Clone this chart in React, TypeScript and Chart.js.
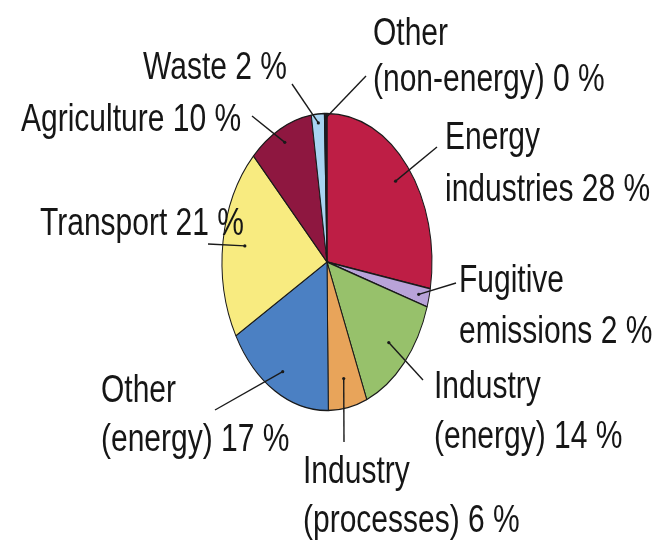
import React, { useEffect, useRef } from 'react';
import { Chart, registerables } from 'chart.js';

Chart.register(...registerables);

// ---- data ----
const categories = [
  'Energy industries',
  'Fugitive emissions',
  'Industry (energy)',
  'Industry (processes)',
  'Other (energy)',
  'Transport',
  'Agriculture',
  'Waste',
  'Other (non-energy)',
];
const shares = [28, 2, 14, 6, 17, 21, 10, 2, 0.4];
const wrapLabel = [true, true, true, true, true, false, false, false, true];
const sliceColors = [
  '#BE1E45',
  '#B9A3D9',
  '#97C16B',
  '#E8A45A',
  '#4B80C3',
  '#F8EB80',
  '#8E1740',
  '#A8D4F2',
  '#1C1C2A',
];

// ---- label layout (text anchor, leader end, inner-point fraction, line height) ----
const labelLayout = [
  { x: 445, y: 149, ex: 437, ey: 147, frac: 0.85, lh: 52 },
  { x: 459, y: 292, ex: 456, ey: 283, frac: 0.9, lh: 51 },
  { x: 434, y: 398, ex: 423, ey: 380, frac: 0.8, lh: 50 },
  { x: 303, y: 483, ex: 344, ey: 442, frac: 0.8, lh: 49 },
  { x: 101, y: 402, ex: 215, ey: 410, frac: 0.85, lh: 49 },
  { x: 40, y: 235, ex: 208, ey: 244, frac: 0.79, lh: 50 },
  { x: 21, y: 131, ex: 252, ey: 116, frac: 0.9, lh: 50 },
  { x: 143, y: 79, ex: 292, ey: 84, frac: 0.94, lh: 50 },
  { x: 373, y: 45, ex: 366, ey: 76, frac: 0.97, lh: 46 },
];

const Y_STRETCH = 1.415;
const TEXT_STRETCH = 1.28;

function labelLines(i: number): string[] {
  const name = categories[i];
  const pct = `${Math.round(shares[i])} %`;
  if (wrapLabel[i]) {
    const k = name.indexOf(' ');
    return [name.slice(0, k), name.slice(k + 1) + ' ' + pct];
  }
  return [name + ' ' + pct];
}

const ellipsePlugin = {
  id: 'ellipsePie',
  beforeDatasetsDraw(chart: any) {
    const arc = chart.getDatasetMeta(0).data[0];
    const { x, y } = arc;
    const ctx = chart.ctx;
    ctx.save();
    ctx.translate(x, y);
    ctx.scale(1, Y_STRETCH);
    ctx.translate(-x, -y);
  },
  afterDatasetsDraw(chart: any) {
    chart.ctx.restore();
  },
};

const labelPlugin = {
  id: 'pieLabels',
  afterDraw(chart: any) {
    const ctx = chart.ctx as CanvasRenderingContext2D;
    const meta = chart.getDatasetMeta(0);
    meta.data.forEach((arc: any, i: number) => {
      const L = labelLayout[i];
      const mid = (arc.startAngle + arc.endAngle) / 2;
      const r = arc.outerRadius * L.frac;
      const ix = arc.x + Math.cos(mid) * r;
      const iy = arc.y + Math.sin(mid) * r * Y_STRETCH;
      ctx.save();
      ctx.strokeStyle = '#1a1a1a';
      ctx.lineWidth = 1.4;
      ctx.beginPath();
      ctx.moveTo(ix, iy);
      ctx.lineTo(L.ex, L.ey);
      ctx.stroke();
      ctx.fillStyle = '#1a1a1a';
      ctx.beginPath();
      ctx.arc(ix, iy, 1.6, 0, Math.PI * 2);
      ctx.fill();
      ctx.restore();

      const lines = labelLines(i);
      lines.forEach((t, j) => {
        ctx.save();
        ctx.translate(L.x, L.y + j * L.lh);
        ctx.scale(1, TEXT_STRETCH);
        ctx.font = '30px "Liberation Sans", Arial, sans-serif';
        ctx.fillStyle = '#161616';
        ctx.textAlign = 'left';
        ctx.textBaseline = 'alphabetic';
        ctx.fillText(t, 0, 0);
        ctx.restore();
      });
    });
  },
};

export default function App() {
  const ref = useRef<HTMLCanvasElement | null>(null);
  useEffect(() => {
    if (!ref.current) return;
    const chart = new Chart(ref.current, {
      type: 'pie',
      data: {
        labels: categories,
        datasets: [
          {
            data: shares,
            backgroundColor: sliceColors,
            borderColor: '#1a1a1a',
            borderWidth: 1,
            radius: 105,
          } as any,
        ],
      },
      options: {
        responsive: false,
        animation: false,
        devicePixelRatio: 1,
        events: [],
        layout: { padding: { left: 0, right: 12, top: 0, bottom: 22 } },
        plugins: {
          legend: { display: false },
          tooltip: { enabled: false },
        },
      } as any,
      plugins: [ellipsePlugin, labelPlugin],
    });
    return () => chart.destroy();
  }, []);
  return (
    <div style={{ position: 'absolute', left: 0, top: 0, width: 666, height: 546, background: '#fff' }}>
      <canvas ref={ref} width={666} height={546} style={{ display: 'block', width: 666, height: 546 }} />
    </div>
  );
}
